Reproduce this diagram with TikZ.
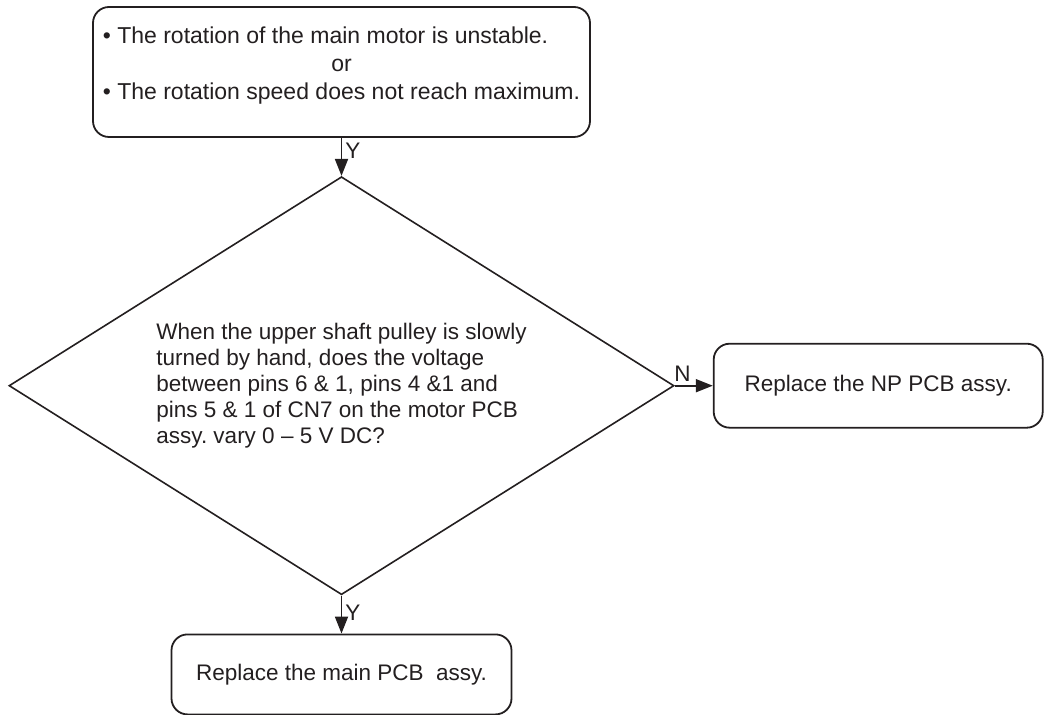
\documentclass[tikz,border=0pt]{standalone}
\usepackage{fontspec}
\setmainfont{Liberation Sans}
\usepackage{xcolor}
\usepackage{tikz}
\usetikzlibrary{arrows.meta,positioning,shapes.geometric}
\frenchspacing
\definecolor{InkBlack}{HTML}{231F20}
\tikzset{
  box/.style={draw=InkBlack,rounded corners=8pt,line width=0.9pt,align=center,
              inner sep=0pt,text=InkBlack,font=\fontsize{11.25}{13}\selectfont},
  decision/.style={draw=InkBlack,diamond,aspect=1.59,line width=0.8pt,inner sep=0pt,
              minimum width=332.5pt,minimum height=209pt,align=left,
              text=InkBlack,font=\fontsize{11.25}{12.9}\selectfont},
  flow/.style={-{Triangle[length=8.5pt,width=6.5pt]},line width=0.9pt,draw=InkBlack},
  note/.style={font=\fontsize{11.25}{13}\selectfont,text=InkBlack,inner sep=1.5pt}
}

\begin{document}
\begin{tikzpicture}[node distance=19pt]
  \useasboundingbox (-170.75pt,36pt) rectangle (352.75pt,-321.5pt);
  \node[box,minimum width=248.5pt,minimum height=65pt,font=\fontsize{11.5}{14}\selectfont] (symptom)
    {\begin{tabular}{@{}l@{}}
       • The rotation of the main motor is unstable.\\
       \multicolumn{1}{@{}c@{}}{or}\\
       • The rotation speed does not reach maximum.\\[6pt]
     \end{tabular}};
  \node[decision,below=of symptom] (check)
    {When the upper shaft pulley is slowly\\
     turned by hand, does the voltage\\
     between pins 6 \& 1, pins 4 \&1 and\\
     pins 5 \& 1 of CN7 on the motor PCB\\
     assy. vary 0 \textendash{} 5 V DC?};
  \node[box,right=of check,minimum width=164.5pt,minimum height=42pt] (npboard) {Replace the NP PCB assy.};
  \node[box,below=of check,minimum width=170pt,minimum height=40pt] (mainboard) {Replace the main PCB\ \ assy.};

  \draw[flow] (symptom) -- (check) node[note,pos=0.34,right] {Y};
  \draw[flow] (check) -- (npboard) node[note,pos=0.2,above] {N};
  \draw[flow] (check) -- (mainboard) node[note,pos=0.45,right] {Y};
\end{tikzpicture}
\end{document}
